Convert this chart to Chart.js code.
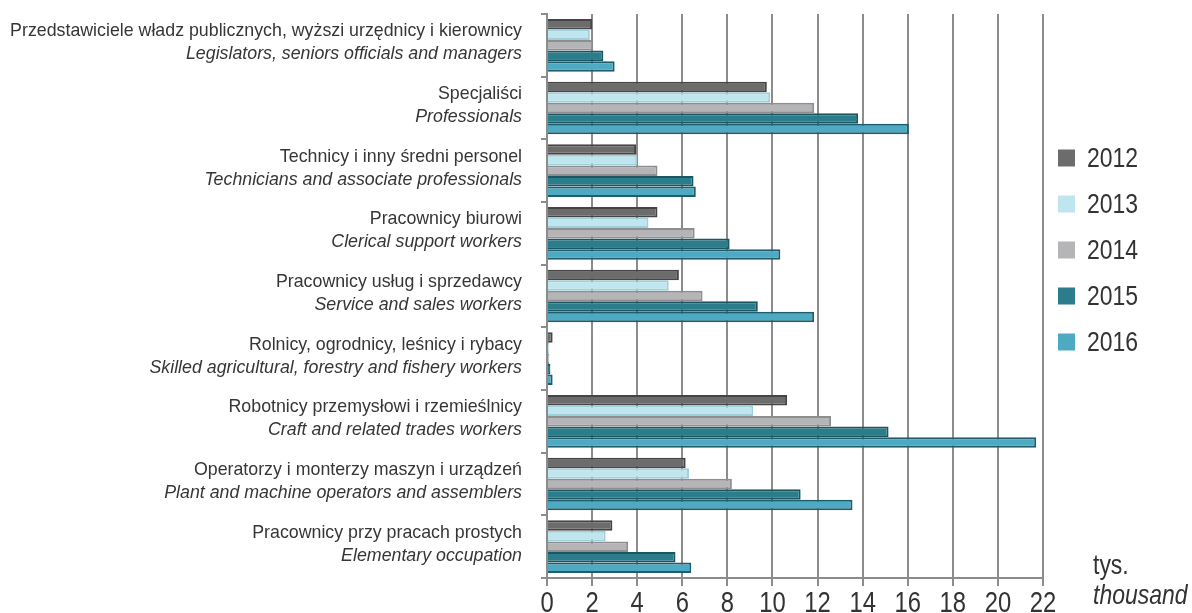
<!DOCTYPE html>
<html>
<head>
<meta charset="utf-8">
<script src="https://cdn.jsdelivr.net/npm/chart.js@4/dist/chart.umd.min.js"></script>
<style>
html,body{margin:0;padding:0;background:#fff;}
#wrap{width:1192px;height:613px;}
</style>
</head>
<body>
<div id="wrap"><canvas id="c" width="1192" height="613"></canvas></div>
<script>
const categoriesPL = [
  'Przedstawiciele władz publicznych, wyższi urzędnicy i kierownicy',
  'Specjaliści',
  'Technicy i inny średni personel',
  'Pracownicy biurowi',
  'Pracownicy usług i sprzedawcy',
  'Rolnicy, ogrodnicy, leśnicy i rybacy',
  'Robotnicy przemysłowi i rzemieślnicy',
  'Operatorzy i monterzy maszyn i urządzeń',
  'Pracownicy przy pracach prostych'
];
const categoriesEN = [
  'Legislators, seniors officials and managers',
  'Professionals',
  'Technicians and associate professionals',
  'Clerical support workers',
  'Service and sales workers',
  'Skilled agricultural, forestry and fishery workers',
  'Craft and related trades workers',
  'Plant and machine operators and assemblers',
  'Elementary occupation'
];
const years = ['2012', '2013', '2014', '2015', '2016'];
const v2012 = [2.0, 9.75, 3.95, 4.9, 5.85, 0.25, 10.65, 6.15, 2.9];
const v2013 = [1.9, 9.9, 4.0, 4.5, 5.4, 0.1, 9.15, 6.3, 2.6];
const v2014 = [2.05, 11.85, 4.9, 6.55, 6.9, 0.1, 12.6, 8.2, 3.6];
const v2015 = [2.5, 13.8, 6.5, 8.1, 9.35, 0.15, 15.15, 11.25, 5.7];
const v2016 = [3.0, 16.05, 6.6, 10.35, 11.85, 0.25, 21.7, 13.55, 6.4];
const xTicks = [0, 2, 4, 6, 8, 10, 12, 14, 16, 18, 20, 22];
const unitPL = 'tys.';
const unitEN = 'thousand';

const seriesValues = [v2012, v2013, v2014, v2015, v2016];
const fills = ['#6c6c6c', '#bfe6ef', '#b5b5b7', '#2b7d8b', '#4eaac3'];
const borders = ['#454545', '#9fcfda', '#8e8e90', '#1b5663', '#1f5d6c'];

const NARROW = 0.82;
function narrowText(ctx, text, x, y, font, align) {
  ctx.save();
  ctx.font = font;
  ctx.textAlign = align;
  ctx.translate(x, y);
  ctx.scale(NARROW, 1);
  ctx.fillText(text, 0, 0);
  ctx.restore();
}

const labelPlugin = {
  id: 'labels',
  afterDraw(chart) {
    const ctx = chart.ctx;
    const ys = chart.scales.y;
    const xs = chart.scales.x;
    ctx.save();
    ctx.fillStyle = '#363636';
    ctx.textAlign = 'right';
    ctx.textBaseline = 'alphabetic';
    for (let i = 0; i < categoriesPL.length; i++) {
      const cy = ys.getPixelForValue(i);
      ctx.font = '17.8px "Liberation Sans", Arial, sans-serif';
      ctx.fillText(categoriesPL[i], 522, cy - 9);
      ctx.font = 'italic 17.8px "Liberation Sans", Arial, sans-serif';
      ctx.fillText(categoriesEN[i], 522, cy + 14);
    }
    // x tick labels (narrow)
    ctx.fillStyle = '#333';
    ctx.textBaseline = 'alphabetic';
    xs.ticks.forEach(t => {
      narrowText(ctx, String(t.value), xs.getPixelForValue(t.value), 612, '29px "Liberation Sans", Arial, sans-serif', 'center');
    });
    // legend
    ctx.textBaseline = 'middle';
    for (let k = 0; k < years.length; k++) {
      const y = 158 + k * 46;
      ctx.fillStyle = fills[k];
      ctx.fillRect(1058, y - 8.5, 17, 17);
      ctx.fillStyle = '#333';
      narrowText(ctx, years[k], 1087, y + 1, '28px "Liberation Sans", Arial, sans-serif', 'left');
    }
    narrowText(ctx, unitPL, 1093, 566, '28px "Liberation Sans", Arial, sans-serif', 'left');
    narrowText(ctx, unitEN, 1093, 596, 'italic 28px "Liberation Sans", Arial, sans-serif', 'left');
    ctx.restore();
  }
};

new Chart(document.getElementById('c'), {
  type: 'bar',
  data: {
    labels: categoriesPL,
    datasets: years.map((yr, k) => ({
      label: yr,
      data: seriesValues[k],
      backgroundColor: fills[k],
      borderColor: borders[k],
      borderWidth: 2,
      categoryPercentage: 0.84,
      barPercentage: 1.0
    }))
  },
  options: {
    indexAxis: 'y',
    responsive: false,
    animation: false,
    devicePixelRatio: 1,
    layout: { padding: { top: 14, right: 149, left: 0, bottom: 0 } },
    plugins: { legend: { display: false }, tooltip: { enabled: false } },
    scales: {
      x: {
        min: xTicks[0],
        max: xTicks[xTicks.length - 1],
        afterBuildTicks(s) { s.ticks = xTicks.map(v => ({ value: v })); },
        afterFit(s) { s.height = 35; },
        ticks: { display: false },
        grid: { color: '#8c8c8c', lineWidth: 2, tickLength: 8 },
        border: { color: '#8c8c8c', width: 2 }
      },
      y: {
        afterFit(s) { s.width = 547; },
        ticks: { display: false },
        grid: { drawOnChartArea: false, drawTicks: true, tickLength: 6, color: '#8c8c8c', lineWidth: 2, offset: true },
        border: { color: '#8c8c8c', width: 2 }
      }
    }
  },
  plugins: [labelPlugin]
});
</script>
</body>
</html>
